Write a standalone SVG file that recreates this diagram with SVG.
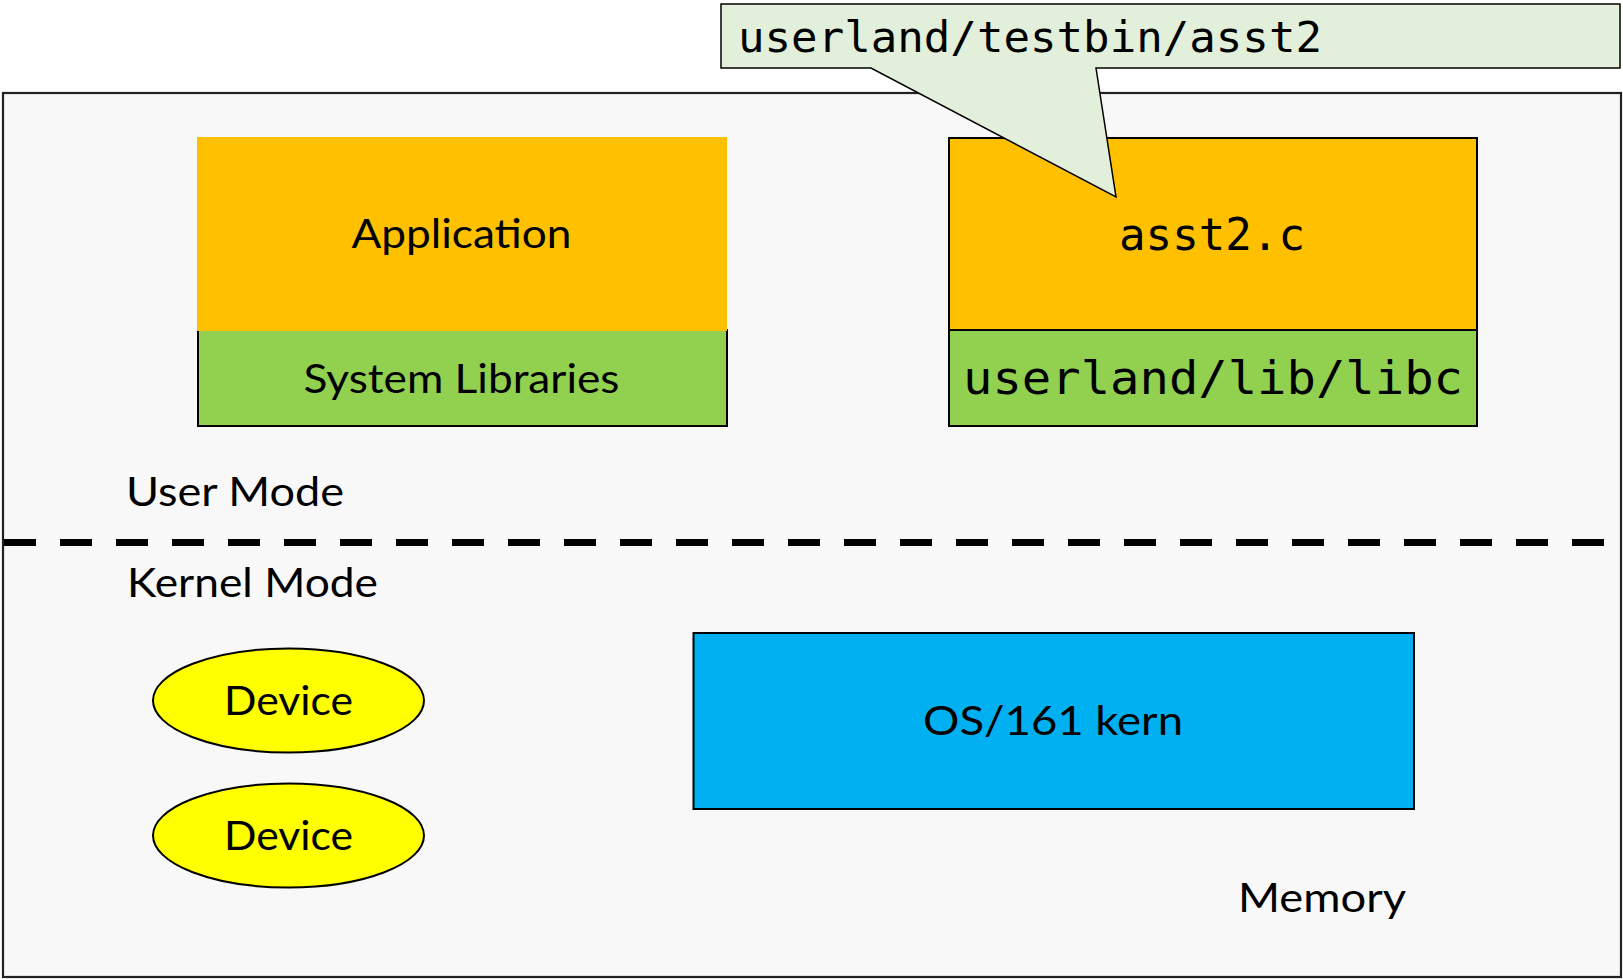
<svg xmlns="http://www.w3.org/2000/svg" width="1623" height="979" viewBox="0 0 1623 979">
  <style>
    .sans { font-family: Lato, "Liberation Sans", sans-serif; font-size: 41px; fill: #000; }
    .mono { font-family: "DejaVu Sans Mono", "Liberation Mono", monospace; fill: #000; }
    .orange { fill: #FFC000; }
    .green { fill: #92D050; }
    .edge { stroke: #000; stroke-width: 2; }
  </style>
  <rect width="1623" height="979" fill="#FFFFFF"/>

  <g id="memory">
    <rect x="3" y="93" width="1618" height="884" fill="#F8F8F8" stroke="#222" stroke-width="2.2"/>
    <text class="sans" x="1238" y="912" textLength="168" lengthAdjust="spacingAndGlyphs">Memory</text>
  </g>

  <g id="mode-divider">
    <line x1="4" y1="542.5" x2="1621" y2="542.5" stroke="#000" stroke-width="7" stroke-dasharray="32 24"/>
    <text class="sans" x="126" y="506" textLength="218" lengthAdjust="spacingAndGlyphs">User Mode</text>
    <text class="sans" x="127" y="597" textLength="251" lengthAdjust="spacingAndGlyphs">Kernel Mode</text>
  </g>

  <g id="system-libraries">
    <rect class="green" x="198" y="330" width="529" height="96" stroke="#000" stroke-width="2"/>
    <text class="sans" x="461.5" y="393" text-anchor="middle" textLength="316" lengthAdjust="spacingAndGlyphs">System Libraries</text>
  </g>

  <g id="application">
    <rect class="orange" x="197" y="137" width="530" height="194"/>
    <text class="sans" x="461.5" y="248" text-anchor="middle" textLength="220" lengthAdjust="spacingAndGlyphs">Application</text>
  </g>

  <g id="asst2-c">
    <rect class="orange edge" x="949" y="138" width="528" height="192"/>
    <text class="mono" font-size="44" x="1212" y="250" text-anchor="middle" textLength="186" lengthAdjust="spacingAndGlyphs">asst2.c</text>
  </g>

  <g id="libc">
    <rect class="green edge" x="949" y="330" width="528" height="96"/>
    <text class="mono" font-size="47" x="963" y="394" textLength="500" lengthAdjust="spacingAndGlyphs">userland/lib/libc</text>
  </g>

  <g id="device-1">
    <ellipse cx="288.5" cy="700.5" rx="135.5" ry="52" fill="#FFFF00" stroke="#000" stroke-width="2"/>
    <text class="sans" x="288.5" y="715" text-anchor="middle" textLength="129" lengthAdjust="spacingAndGlyphs">Device</text>
  </g>

  <g id="device-2">
    <ellipse cx="288.5" cy="835.5" rx="135.5" ry="52" fill="#FFFF00" stroke="#000" stroke-width="2"/>
    <text class="sans" x="288.5" y="850" text-anchor="middle" textLength="129" lengthAdjust="spacingAndGlyphs">Device</text>
  </g>

  <g id="os161-kern">
    <rect x="693.5" y="633" width="720.5" height="176" fill="#00B0F0" stroke="#000" stroke-width="2"/>
    <text class="sans" x="1053" y="735" text-anchor="middle" textLength="260" lengthAdjust="spacingAndGlyphs">OS/161 kern</text>
  </g>

  <g id="connectors"></g>

  <g id="callout-testbin">
    <path d="M721,4 H1620 V68 H1096 L1116,197 L871,68 H721 Z" fill="#E2EFDA" stroke="#000" stroke-width="1.5" stroke-linejoin="miter"/>
    <text class="mono" font-size="43" x="738" y="52" textLength="584" lengthAdjust="spacingAndGlyphs">userland/testbin/asst2</text>
  </g>
</svg>
